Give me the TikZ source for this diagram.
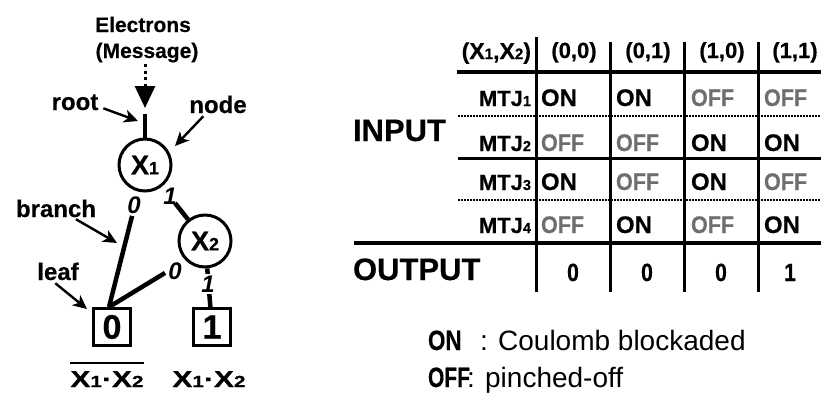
\documentclass[tikz,border=0pt]{standalone}
\usepackage{fontspec}
\setmainfont{Liberation Sans}[BoldFeatures={FakeBold=0.4}]
\usepackage{graphicx}
\usetikzlibrary{arrows.meta}
\definecolor{offgray}{RGB}{110,110,110}
\newcommand{\sbd}[1]{\scalebox{0.66}{#1}}
\newcommand{\fz}[1]{\fontsize{#1}{#1}\selectfont}
\newcommand{\cnd}[2]{\scalebox{#1}[1]{#2}}
\begin{document}
\begin{tikzpicture}[x=1pt,y=-1pt,
  txt/.style={inner sep=0pt,outer sep=0pt,anchor=base},
  bt/.style={txt,font=\fz{#1}\bfseries},
  circ/.style={circle,draw,line width=3pt,minimum size=52pt,inner sep=0pt,font=\fz{27}\bfseries},
  leafbox/.style={rectangle,draw,line width=3pt,minimum size=37pt,inner sep=0pt,font=\fz{34}\bfseries},
  branchline/.style={line width=4.5pt},
  edgelbl/.style={inner sep=0pt,font=\fz{24}\bfseries\itshape},
  callout/.style={line width=2.4pt,-{Stealth[length=14pt,width=13pt,inset=4pt]}},
  cell/.style={txt,anchor=base west,font=\fz{24}\bfseries},
  offc/.style={cell,text=offgray},
  hdr/.style={txt,font=\fz{22}\bfseries},
  mtj/.style={txt,anchor=base east,font=\fz{22}\bfseries},
  outv/.style={txt,font=\fz{25}\bfseries},
  big/.style={txt,anchor=base west,font=\fz{31}\bfseries},
  vline/.style={line width=3pt},
  dotline/.style={line width=1.6pt,dash pattern=on 1.5pt off 1.5pt},
  thickrule/.style={line width=4pt},
  legb/.style={txt,anchor=base west,font=\fz{28}\bfseries},
  legr/.style={txt,anchor=base west,font=\fz{28}}
]
\useasboundingbox (0,0) rectangle (821,394);

% ---------- tree ----------
\node[bt=21] (elec) at (143,32) {Electrons};
\node[bt=21] (msg) at (147,58) {(Message)};
\coordinate (dtop) at (145,64);
\coordinate (dtip) at (145,108);
\draw[line width=3pt,dash pattern=on 3pt off 3.5pt,-{Triangle[length=22pt,width=20pt]}] (dtop) -- (dtip);

\node[circ] (x1) at (145,165) {X\sbd{1}};
\node[circ] (x2) at (205,241) {X\sbd{2}};
\node[leafbox] (leaf0) at (112,327) {0};
\node[leafbox] (leaf1) at (212,327) {1};

\coordinate (rs) at (145,114);
\draw[line width=4pt] (rs) -- (x1);

\draw[branchline,shorten <=25pt] (x1) -- ([xshift=-3pt]leaf0.north);
\node[edgelbl] (l10) at (134,205) {0};
\draw[branchline,shorten <=21pt] (x1) -- (x2);
\node[edgelbl] (l11) at (170,196) {1};
\draw[branchline,shorten <=24pt] (x2.225) -- ([xshift=-3pt]leaf0.north);
\node[edgelbl] (l20) at (175,271) {0};
\draw[branchline] (x2) -- (leaf1);
\node[edgelbl,fill=white,inner sep=2pt] (l21) at (208,284) {1};

% callouts
\node[bt=24] (rootl) at (75,110) {root};
\coordinate (rootpt) at (138,121);
\draw[callout] ([xshift=5pt,yshift=-6pt]rootl.east) -- (rootpt);
\node[bt=24] (nodel) at (218,113) {node};
\coordinate (nodept) at (175,146);
\draw[callout] ([xshift=14pt,yshift=-3pt]nodel.south west) -- (nodept);
\node[bt=24] (branchl) at (56,217) {branch};
\coordinate (branchpt) at (117,243);
\draw[callout] ([xshift=60pt,yshift=-2pt]branchl.south west) -- (branchpt);
\node[bt=24] (leafl) at (58,280) {leaf};
\coordinate (leafpt) at (87,309);
\draw[callout] ([xshift=18pt,yshift=-3pt]leafl.south west) -- (leafpt);

% leaf labels
\node[txt,font=\fz{23}\bfseries] (lab0) at (107,387) {\cnd{1.3}{X\scalebox{0.7}{1}\textperiodcentered X\scalebox{0.7}{2}}};
\node[txt,font=\fz{23}\bfseries] (lab1) at (209,387) {\cnd{1.3}{X\scalebox{0.7}{1}\textperiodcentered X\scalebox{0.7}{2}}};
\draw[line width=2.6pt] ([yshift=8pt]lab0.north west) -- ([yshift=8pt]lab0.north east);

% ---------- table ----------
\draw[vline] (536,37) -- (536,292);
\draw[vline] (610,42) -- (610,292);
\draw[vline] (684,42) -- (684,292);
\draw[vline] (758,42) -- (758,292);
\draw[thickrule] (457,72) -- (821,72);
\draw[dotline] (458,116) -- (821,116);
\draw[line width=3pt] (458,158) -- (821,158);
\draw[dotline] (458,200) -- (821,200);
\draw[thickrule] (354,243) -- (821,243);

\node[mtj,font=\fz{23}\bfseries] (hx) at (531,59) {(X\sbd{1},X\sbd{2})};
\node[hdr] (h1) at (574,58) {(0,0)};
\node[hdr] (h2) at (648,58) {(0,1)};
\node[hdr] (h3) at (722,58) {(1,0)};
\node[hdr] (h4) at (795,58) {(1,1)};

\node[mtj] (m1) at (531,106) {MTJ\sbd{1}};
\node[mtj] (m2) at (531,151) {MTJ\sbd{2}};
\node[mtj] (m3) at (531,190) {MTJ\sbd{3}};
\node[mtj] (m4) at (531,233) {MTJ\sbd{4}};

\node[cell] at (541,106) {ON};
\node[cell] at (616,106) {ON};
\node[offc] at (691,106) {\cnd{0.9}{OFF}};
\node[offc] at (764,106) {\cnd{0.9}{OFF}};

\node[offc] at (541,151) {\cnd{0.9}{OFF}};
\node[offc] at (616,151) {\cnd{0.9}{OFF}};
\node[cell] at (691,151) {ON};
\node[cell] at (764,151) {ON};

\node[cell] at (541,190) {ON};
\node[offc] at (616,190) {\cnd{0.9}{OFF}};
\node[cell] at (691,190) {ON};
\node[offc] at (764,190) {\cnd{0.9}{OFF}};

\node[offc] at (541,233) {\cnd{0.9}{OFF}};
\node[cell] at (616,233) {ON};
\node[offc] at (691,233) {\cnd{0.9}{OFF}};
\node[cell] at (764,233) {ON};

\node[big] (inp) at (353,141) {INPUT};
\node[big] (outp) at (353,280) {OUTPUT};
\node[outv] at (573,281) {\cnd{0.85}{0}};
\node[outv] at (647,281) {\cnd{0.85}{0}};
\node[outv] at (721,281) {\cnd{0.85}{0}};
\node[outv] at (790,281) {\cnd{0.85}{1}};

% legend
\node[legb] (lon) at (428,350) {\cnd{0.8}{ON}};
\node[legr] (lonr) at (480,350) {: Coulomb blockaded};
\node[legb] (loff) at (428,387) {\cnd{0.75}{OFF}};
\node[legr] (loffr) at (467,387) {: pinched-off};
\end{tikzpicture}
\end{document}
